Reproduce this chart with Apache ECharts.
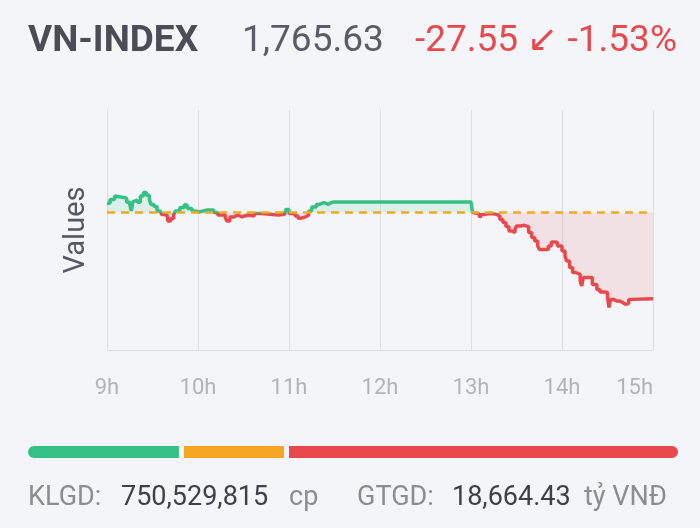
<!DOCTYPE html>
<html>
<head>
<meta charset="utf-8">
<script src="https://cdn.jsdelivr.net/npm/echarts@6/dist/echarts.min.js"></script>
<style>
html, body { margin:0; padding:0; background:#f3f5f8; }
#chart { width:700px; height:528px; }
</style>
</head>
<body>
<div id="chart"></div>
<script>
// intraday VN-INDEX ticks
var times = ['09:00','09:02','09:05','09:06','09:10','09:13','09:15','09:16','09:17','09:18',
             '09:20','09:22','09:24','09:26','09:28','09:29','09:31','09:33','09:35','09:36',
             '09:38','09:40','09:42','09:44','09:45','09:48','09:51','09:52','09:53','09:56',
             '09:58','10:01','10:06','10:10','10:11','10:13','10:18','10:19','10:21','10:24',
             '10:26','10:29','10:33','10:37','10:42','10:53','10:57','10:58','11:00','11:04',
             '11:06','11:08','11:11','11:13','11:15','11:18','11:20','11:23','11:26','11:28',
             '11:29','11:30','13:00','13:01','13:02','13:05','13:06','13:07','13:09','13:13',
             '13:17','13:19','13:21','13:23','13:25','13:27','13:29','13:30','13:33','13:35',
             '13:38','13:40','13:42','13:44','13:45','13:51','13:53','13:55','13:57','14:00',
             '14:02','14:03','14:05','14:07','14:09','14:12','14:13','14:14','14:17','14:18',
             '14:20','14:23','14:25','14:28','14:30','14:31','14:32','14:34','14:36','14:38',
             '14:40','14:42','14:44','14:46','15:00'];
var prices = [1796.2,1797.4,1798.5,1798.1,1797.8,1796.5,1795.8,1793.7,1796.6,1797.2,
              1796.5,1798.5,1799.6,1798.7,1797.2,1795.8,1795.1,1793.7,1793.2,1792.6,
              1792.1,1790.5,1791.3,1792.6,1793.7,1794.8,1795.8,1795.5,1794.5,1793.7,
              1793.4,1794.0,1794.0,1794.2,1793.2,1792.4,1791.6,1790.5,1791.8,1792.4,
              1791.8,1792.4,1792.1,1792.9,1792.4,1792.6,1793.2,1794.2,1792.9,1792.1,
              1791.4,1791.8,1792.4,1793.7,1795.0,1795.8,1796.4,1795.8,1796.4,1795.8,
              1796.6,1796.6,1796.6,1793.2,1792.9,1792.3,1791.6,1792.6,1792.9,1792.6,
              1792.1,1791.0,1790.0,1788.7,1787.3,1786.8,1787.8,1788.9,1789.1,1788.7,
              1786.8,1785.2,1784.1,1782.5,1781.4,1782.5,1783.8,1783.6,1782.5,1780.9,
              1779.3,1777.7,1775.6,1774.0,1773.4,1771.3,1769.7,1772.4,1772.7,1772.4,
              1770.2,1768.6,1767.8,1767.6,1766.0,1762.8,1765.4,1764.9,1764.9,1764.4,
              1763.8,1764.1,1765.4,1765.63,1765.63];
var refPrice = 1793.18;           // previous close
var hourLabels = ['9h','10h','11h','12h','13h','14h','15h'];

// market breadth: advancers / unchanged / decliners
var breadthNames = ['Tăng','Đứng giá','Giảm'];
var breadthCounts = [95, 64, 240];

var header = ['VN-INDEX', '1,765.63', '-27.55 \u2199 -1.53%'];
var footer = ['KLGD:', '750,529,815', 'cp', 'GTGD:', '18,664.43', 'tỷ VNĐ'];

var GREEN = '#35c185', RED = '#e8494d', ORANGE = '#f5a623', BG = '#f3f5f8';
var FONT = 'Roboto, "Open Sans", sans-serif';

function toMinutes(t)
{
	var p = t.split(':');
	return (parseInt(p[0], 10) - 9) * 60 + parseInt(p[1], 10);
}

function buildLine()
{
	var data = [];
	for (var i = 0; i < times.length; i++) {
		data.push([toMinutes(times[i]), prices[i]]);
	}
	return data;
}

function buildBreadth()
{
	var colors = [GREEN, ORANGE, RED];
	var radius = [[8, 0, 0, 8], 0, [0, 8, 8, 0]];
	var list = [];
	for (var i = 0; i < breadthCounts.length; i++) {
		list.push({
			name: breadthNames[i],
			type: 'bar',
			stack: 'breadth',
			xAxisIndex: 1,
			yAxisIndex: 1,
			barWidth: 17,
			silent: true,
			data: [breadthCounts[i]],
			itemStyle: { color: colors[i], borderColor: BG, borderWidth: 2.5, borderRadius: radius[i] }
		});
	}
	return list;
}

function txt(x, y, s, font, color)
{
	return { type: 'text', left: x, top: y, style: { text: s, font: font, fill: color } };
}

function initPage()
{
	var total = 0;
	for (var i = 0; i < breadthCounts.length; i++) total += breadthCounts[i];

	var option = {
		backgroundColor: BG,
		animation: false,
		grid: [
			{ left: 107, right: 47, top: 110, bottom: 178 },
			{ left: 25.5, right: 19.5, top: 443.5, height: 17 }
		],
		xAxis: [
			{
				type: 'value', min: 0, max: 360, interval: 60,
				axisLine: { lineStyle: { color: '#dcdde1' } },
				axisTick: { show: false },
				splitLine: { show: true, lineStyle: { color: '#dcdde1' } },
				axisLabel: {
					color: '#b2b4b8', fontSize: 22, fontFamily: FONT, margin: 27,
					alignMaxLabel: 'right',
					formatter: function (v) { return hourLabels[Math.round(v / 60)]; }
				}
			},
			{ type: 'value', gridIndex: 1, min: 0, max: total, show: false }
		],
		yAxis: [
			{
				type: 'value', min: 1749.2, max: 1826.0,
				name: 'Values', nameLocation: 'middle', nameGap: 16,
				nameTextStyle: { fontSize: 29, color: '#555a61', fontFamily: FONT },
				axisLine: { show: false }, axisTick: { show: false },
				axisLabel: { show: false }, splitLine: { show: false }
			},
			{ type: 'category', gridIndex: 1, data: ['b'], show: false }
		],
		visualMap: {
			type: 'piecewise', show: false, seriesIndex: 0, dimension: 1,
			pieces: [
				{ gt: refPrice, lte: 1900, color: GREEN },
				{ gt: 1700, lte: refPrice, color: RED }
			]
		},
		series: [
			{
				type: 'line',
				step: 'end',
				symbol: 'none',
				data: buildLine(),
				lineStyle: { width: 3.5 },
				areaStyle: { origin: refPrice, opacity: 0.12 },
				markLine: {
					silent: true, symbol: 'none',
					label: { show: false },
					lineStyle: { color: ORANGE, type: [8, 6], width: 2.5 },
					data: [ { yAxis: refPrice } ]
				}
			}
		].concat(buildBreadth()),
		graphic: [
			txt(28, 23, header[0], 'bold 37px ' + FONT, '#4a4d56'),
			txt(242, 23, header[1], '37px ' + FONT, '#5a5d66'),
			txt(415, 23, header[2], '37px ' + FONT, RED),
			txt(28, 485, footer[0], '27px ' + FONT, '#8b8d92'),
			txt(121, 485, footer[1], '27px ' + FONT, '#3e4149'),
			txt(289, 485, footer[2], '27px ' + FONT, '#8b8d92'),
			txt(357, 485, footer[3], '27px ' + FONT, '#8b8d92'),
			txt(452, 485, footer[4], '27px ' + FONT, '#3e4149'),
			txt(584, 485, footer[5], '27px ' + FONT, '#8b8d92')
		]
	};

	var myChart = echarts.init(document.getElementById('chart'));
	myChart.setOption(option);
}

initPage();
</script>
</body>
</html>
